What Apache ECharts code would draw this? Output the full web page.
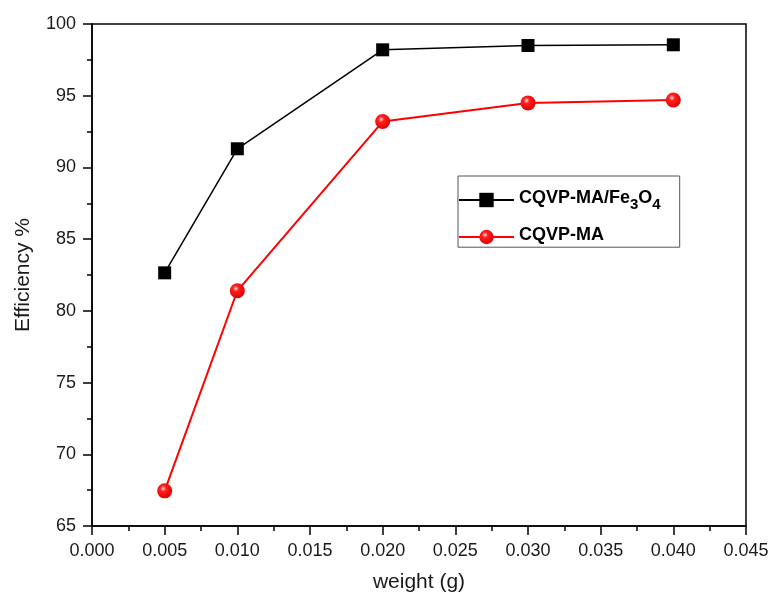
<!DOCTYPE html>
<html><head><meta charset="utf-8">
<script src="https://cdn.jsdelivr.net/npm/echarts@6/dist/echarts.min.js"></script>
<style>html,body{margin:0;padding:0;background:#fff}#c{width:776px;height:598px}</style>
</head><body><div id="c"></div>
<script>
const weights = [0.005, 0.010, 0.020, 0.030, 0.040];
const fe3o4Eff = [82.65, 91.3, 98.2, 98.5, 98.55];
const maEff = [67.45, 81.4, 93.2, 94.5, 94.7];
const xTicks = {min: 0, max: 0.045, interval: 0.005};
const yTicks = {min: 65, max: 100, interval: 5};
const seriesNames = ['CQVP-MA/Fe3O4', 'CQVP-MA'];

const chart = echarts.init(document.getElementById('c'));
const font = 'Liberation Sans, Arial, sans-serif';
const axisCommon = {
  axisLine: {show: true, onZero: false, lineStyle: {color: '#000', width: 1.5}},
  axisTick: {show: true, inside: false, length: 9, lineStyle: {color: '#000', width: 1.5}},
  minorTick: {show: true, splitNumber: 2, length: 5, lineStyle: {color: '#000', width: 1.5}},
  splitLine: {show: false},
  axisLabel: {color: '#1a1a1a', fontSize: 18, fontFamily: font, margin: 16}
};
chart.setOption({
  backgroundColor: '#fff',
  animation: false,
  grid: {left: 92, right: 30, top: 24, bottom: 70, show: true, borderColor: '#000', borderWidth: 1.5},
  xAxis: Object.assign({}, axisCommon, {
    type: 'value', min: xTicks.min, max: xTicks.max, interval: xTicks.interval,
    name: 'weight (g)', nameLocation: 'middle', nameGap: 46,
    nameTextStyle: {fontSize: 21, fontFamily: font, color: '#1a1a1a'},
    axisLabel: Object.assign({}, axisCommon.axisLabel, {formatter: v => v.toFixed(3)})
  }),
  yAxis: Object.assign({}, axisCommon, {
    type: 'value', min: yTicks.min, max: yTicks.max, interval: yTicks.interval,
    name: 'Efficiency %', nameLocation: 'middle', nameGap: 58,
    nameTextStyle: {fontSize: 21, fontFamily: font, color: '#1a1a1a'}
  }),
  legend: {
    left: 458, top: 176, orient: 'vertical',
    padding: [13, 19, 3, 0], itemGap: 14,
    itemWidth: 55, itemHeight: 18,
    borderColor: '#555', borderWidth: 1, backgroundColor: '#fff',
    data: seriesNames,
    formatter: function (n) {
      if (n === 'CQVP-MA/Fe3O4') return '{m|CQVP-MA/Fe}{s|3}{m|O}{s|4}';
      return '{m|' + n + '}';
    },
    textStyle: {
      fontFamily: font, fontSize: 18, fontWeight: 'bold', color: '#000',
      rich: {
        m: {fontSize: 18, fontWeight: 'bold', fontFamily: font, color: '#000', lineHeight: 22, verticalAlign: 'top'},
        s: {fontSize: 15, fontWeight: 'bold', fontFamily: font, color: '#000', lineHeight: 22, verticalAlign: 'top', padding: [8, 0, 0, 0]}
      }
    }
  },
  series: [
    {
      name: seriesNames[0], type: 'line',
      data: weights.map((w, i) => [w, fe3o4Eff[i]]),
      symbol: 'rect', symbolSize: 13,
      lineStyle: {color: '#000', width: 1.5},
      itemStyle: {color: '#000'}
    },
    {
      name: seriesNames[1], type: 'line',
      data: weights.map((w, i) => [w, maEff[i]]),
      symbol: 'circle', symbolSize: 15,
      lineStyle: {color: '#ff0000', width: 2},
      itemStyle: {color: {type: 'radial', x: 0.4, y: 0.35, r: 0.65, colorStops: [
        {offset: 0, color: '#ffe0e0'}, {offset: 0.3, color: '#ff2020'}, {offset: 1, color: '#e00000'}]}}
    }
  ]
});
</script></body></html>
